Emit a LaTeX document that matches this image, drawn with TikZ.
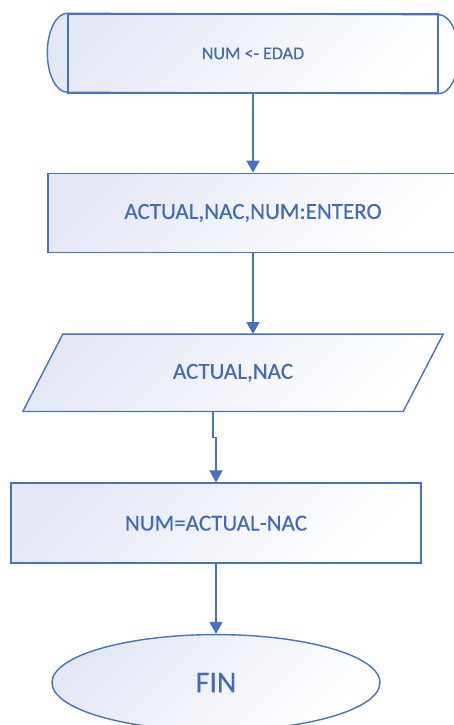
\documentclass[tikz,border=0pt]{standalone}
\usepackage{fontspec}
\setmainfont{Carlito}
\newfontfamily\labelfont[FakeBold=0.3]{Carlito}
\usepackage{tikz}
\usetikzlibrary{
	positioning,
	calc,
	backgrounds,
	shapes.geometric,
	arrows.meta
}

\definecolor{lineblue}{RGB}{68,114,196}
\definecolor{textblue}{RGB}{64,106,186}
\definecolor{fillblue}{RGB}{228,232,245}

\tikzset{
	shadefill/.style={top color=fillblue,bottom color=white,shading angle=45},
	box/.style={rectangle,draw=lineblue,line width=1.4pt,shadefill,
		text=textblue,inner sep=0pt,font=\labelfont\fontsize{23}{27}\selectfont},
	plain/.style={rectangle,inner sep=0pt,text=textblue,
		font=\labelfont\fontsize{23}{27}\selectfont},
	flow/.style={draw=lineblue,line width=1.4pt,
		-{Triangle[width=13pt,length=12pt]}}
}

\begin{document}
\begin{tikzpicture}[x=1pt,y=1pt]
		\useasboundingbox (0,0) rectangle (454,725);

		\draw
			node [plain,draw=lineblue,line width=1.4pt,minimum width=370pt,minimum height=79pt,
				font=\labelfont\fontsize{18}{22}\selectfont] at (253,671.5) (start) {NUM <- EDAD}
			node [box,minimum width=410pt,minimum height=79pt,below=79pt of start] (decl) {ACTUAL,NAC,NUM:ENTERO}
			node [plain,minimum width=380pt,minimum height=77pt,below=81pt of decl,xshift=-20pt] (read) {ACTUAL,NAC}
			node [box,minimum width=410pt,minimum height=80pt,below=71pt of read,xshift=-17pt] (calc) {NUM=ACTUAL-NAC}
			node [box,ellipse,minimum width=328pt,minimum height=96pt,below=70pt of calc,
				font=\labelfont\fontsize{30}{34}\selectfont] (fin) {FIN}
		;

		% rounded ends and slanted body drawn behind the labels
		\begin{scope}[on background layer]
			\draw [draw=lineblue,line width=1.4pt,shadefill]
				(start.north west) arc [start angle=90,end angle=270,x radius=20,y radius=39.5]
				-- (start.south east) arc [start angle=-90,end angle=90,x radius=20,y radius=39.5]
				-- cycle;
			\draw [draw=lineblue,line width=1.4pt,shadefill]
				($(read.north west)+(20,0)$) -- ($(read.north east)+(20,0)$)
				-- ($(read.south east)+(-20,0)$) -- ($(read.south west)+(-20,0)$) -- cycle;
		\end{scope}

		\draw [flow] (start) -- (decl);
		\draw [flow] (decl.south) -- (decl.south |- read.north);
		\draw [flow] ($(read.south)+(-20,0)$) -- ++(0,-26) -| (calc.north);
		\draw [flow] (calc) -- (fin);
    \end{tikzpicture}
\end{document}
